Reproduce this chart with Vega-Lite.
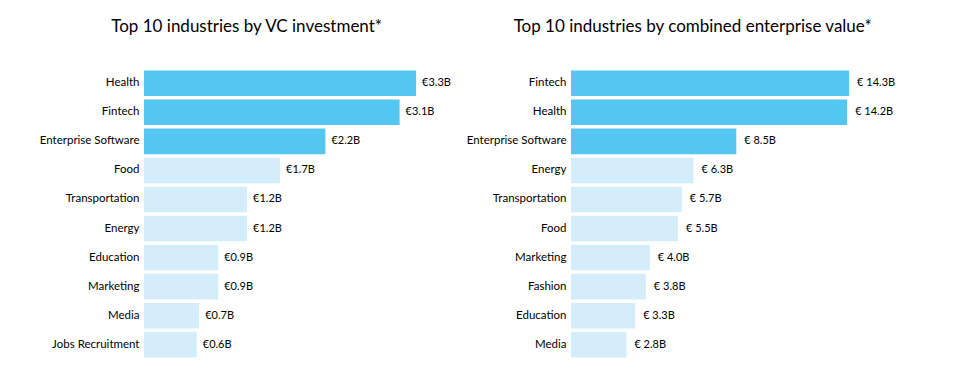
{
  "$schema": "https://vega.github.io/schema/vega-lite/v6.json",
  "background": "white",
  "padding": {"left": 39, "top": 18, "right": 5, "bottom": 5},
  "datasets": {
    "vc": [
      {"industry": "Health", "value": 3.3, "label": "€3.3B", "rank": 1},
      {"industry": "Fintech", "value": 3.1, "label": "€3.1B", "rank": 2},
      {"industry": "Enterprise Software", "value": 2.2, "label": "€2.2B", "rank": 3},
      {"industry": "Food", "value": 1.65, "label": "€1.7B", "rank": 4},
      {"industry": "Transportation", "value": 1.25, "label": "€1.2B", "rank": 5},
      {"industry": "Energy", "value": 1.25, "label": "€1.2B", "rank": 6},
      {"industry": "Education", "value": 0.9, "label": "€0.9B", "rank": 7},
      {"industry": "Marketing", "value": 0.9, "label": "€0.9B", "rank": 8},
      {"industry": "Media", "value": 0.67, "label": "€0.7B", "rank": 9},
      {"industry": "Jobs Recruitment", "value": 0.64, "label": "€0.6B", "rank": 10}
    ],
    "ev": [
      {"industry": "Fintech", "value": 14.3, "label": "€ 14.3B", "rank": 1},
      {"industry": "Health", "value": 14.2, "label": "€ 14.2B", "rank": 2},
      {"industry": "Enterprise Software", "value": 8.5, "label": "€ 8.5B", "rank": 3},
      {"industry": "Energy", "value": 6.3, "label": "€ 6.3B", "rank": 4},
      {"industry": "Transportation", "value": 5.7, "label": "€ 5.7B", "rank": 5},
      {"industry": "Food", "value": 5.5, "label": "€ 5.5B", "rank": 6},
      {"industry": "Marketing", "value": 4.05, "label": "€ 4.0B", "rank": 7},
      {"industry": "Fashion", "value": 3.85, "label": "€ 3.8B", "rank": 8},
      {"industry": "Education", "value": 3.3, "label": "€ 3.3B", "rank": 9},
      {"industry": "Media", "value": 2.85, "label": "€ 2.8B", "rank": 10}
    ]
  },
  "config": {
    "font": "Lato",
    "view": {"stroke": null},
    "axis": {"domain": false, "ticks": false, "grid": false},
    "title": {"fontSize": 17, "fontWeight": "normal", "color": "#000000", "font": "Lato", "offset": 33, "anchor": "middle", "frame": "bounds"}
  },
  "spacing": 12,
  "hconcat": [
    {
      "title": "Top 10 industries by VC investment*",
      "width": 310,
      "height": 290,
      "data": {"name": "vc"},
      "encoding": {
        "y": {
          "field": "industry", "type": "nominal",
          "sort": {"field": "rank", "order": "ascending"},
          "scale": {"paddingInner": 0.12, "paddingOuter": 0.05},
          "axis": {"title": null, "labelFontSize": 11.5, "labelColor": "#000000", "labelPadding": 5, "minExtent": 92, "maxExtent": 92}
        },
        "x": {"field": "value", "type": "quantitative", "scale": {"domain": [0, 3.76], "nice": false}, "axis": null}
      },
      "layer": [
        {
          "mark": {"type": "bar"},
          "encoding": {
            "color": {"condition": {"test": "datum.rank <= 3", "value": "#54C6F2"}, "value": "#D3EEFA"}
          }
        },
        {
          "mark": {"type": "text", "align": "left", "dx": 6, "fontSize": 11, "color": "#000000"},
          "encoding": {"text": {"field": "label"}}
        }
      ]
    },
    {
      "title": {"text": "Top 10 industries by combined enterprise value*", "dx": 9},
      "width": 330,
      "height": 290,
      "data": {"name": "ev"},
      "encoding": {
        "y": {
          "field": "industry", "type": "nominal",
          "sort": {"field": "rank", "order": "ascending"},
          "scale": {"paddingInner": 0.12, "paddingOuter": 0.05},
          "axis": {"title": null, "labelFontSize": 11.5, "labelColor": "#000000", "labelPadding": 5, "minExtent": 100, "maxExtent": 100}
        },
        "x": {"field": "value", "type": "quantitative", "scale": {"domain": [0, 16.97], "nice": false}, "axis": null}
      },
      "layer": [
        {
          "mark": {"type": "bar"},
          "encoding": {
            "color": {"condition": {"test": "datum.rank <= 3", "value": "#54C6F2"}, "value": "#D3EEFA"}
          }
        },
        {
          "mark": {"type": "text", "align": "left", "dx": 8, "fontSize": 11, "color": "#000000"},
          "encoding": {"text": {"field": "label"}}
        }
      ]
    }
  ]
}
